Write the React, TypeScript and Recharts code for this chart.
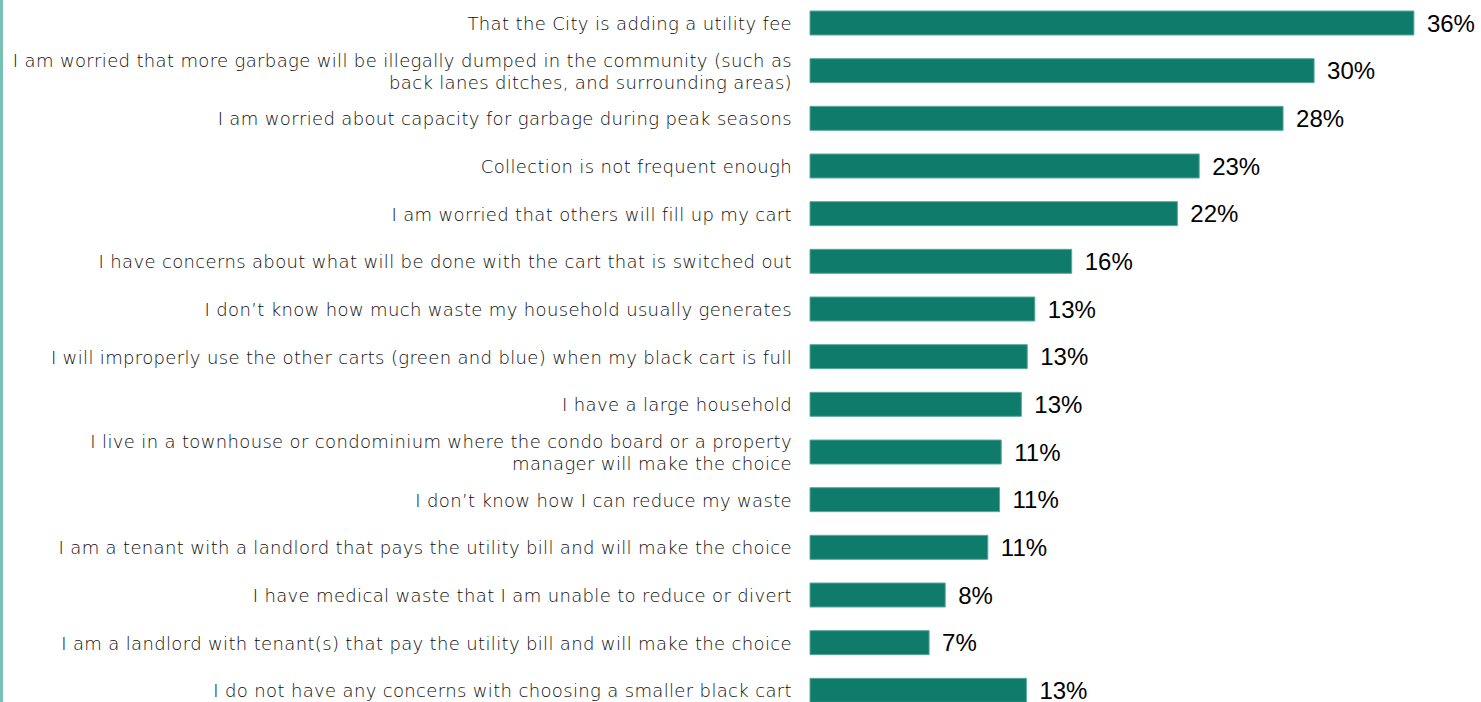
import React from 'react';
import { BarChart, Bar, XAxis, YAxis, LabelList } from 'recharts';

// concerns about choosing a smaller black cart, share of respondents (%)
const concerns = [
  'That the City is adding a utility fee ',
  'I am worried that more garbage will be illegally dumped in the community (such as\nback lanes ditches, and surrounding areas)',
  'I am worried about capacity for garbage during peak seasons',
  'Collection is not frequent enough',
  'I am worried that others will fill up my cart ',
  'I have concerns about what will be done with the cart that is switched out ',
  'I don\u2019t know how much waste my household usually generates',
  'I will improperly use the other carts (green and blue) when my black cart is full ',
  'I have a large household',
  'I live in a townhouse or condominium where the condo board or a property\nmanager will make the choice',
  'I don\u2019t know how I can reduce my waste',
  'I am a tenant with a landlord that pays the utility bill and will make the choice',
  'I have medical waste that I am unable to reduce or divert',
  'I am a landlord with tenant(s) that pay the utility bill and will make the choice',
  'I do not have any concerns with choosing a smaller black cart',
];

const shares = [36.0, 30.05, 28.2, 23.2, 21.9, 15.6, 13.4, 12.95, 12.6, 11.4, 11.3, 10.6, 8.06, 7.1, 12.9];

const data = concerns.map((name, i) => ({ name, share: shares[i] }));

const ConcernTick = (props: any) => {
  const { x, y, payload } = props;
  const lines: string[] = String(payload.value).split('\n');
  const lineH = 22;
  const startY = y - ((lines.length - 1) * lineH) / 2;
  return (
    <text
      x={x}
      y={startY}
      textAnchor="end"
      dominantBaseline="central"
      fill="#0d0d0d"
      fontSize={18}
      fontWeight={300}
      letterSpacing={0.35}
      fontFamily="'DejaVu Sans', sans-serif"
    >
      {lines.map((l, i) => (
        <tspan key={i} x={x} y={startY + i * lineH} dominantBaseline="central">
          {l}
        </tspan>
      ))}
    </text>
  );
};

export default function App() {
  return (
    <div
      style={{
        position: 'absolute',
        left: 0,
        top: 0,
        width: 1481,
        height: 702,
        overflow: 'hidden',
        background: '#fff',
      }}
    >
      <div style={{ position: 'absolute', left: 0, top: 0, width: 3, height: 702, background: '#77c0b5' }} />
      <div style={{ position: 'absolute', left: 0, top: -1 }}>
        <BarChart
          width={1481}
          height={715}
          data={data}
          layout="vertical"
          margin={{ top: 0, right: 0, bottom: 0, left: 0 }}
          barSize={24}
        >
          <XAxis type="number" domain={[0, 40]} hide />
          <YAxis
            type="category"
            dataKey="name"
            width={810}
            axisLine={false}
            tickLine={false}
            tickSize={0}
            tickMargin={18}
            interval={0}
            tick={<ConcernTick />}
          />
          <Bar dataKey="share" fill="#0f7b6b" stroke="#5aa99c" strokeWidth={1} isAnimationActive={false}>
            <LabelList
              dataKey="share"
              position="right"
              offset={13}
              fill="#000"
              fontSize={24}
              fontFamily="'Liberation Sans', Arial, sans-serif"
              formatter={(v: any) => `${Math.round(Number(v))}%`}
            />
          </Bar>
        </BarChart>
      </div>
    </div>
  );
}
